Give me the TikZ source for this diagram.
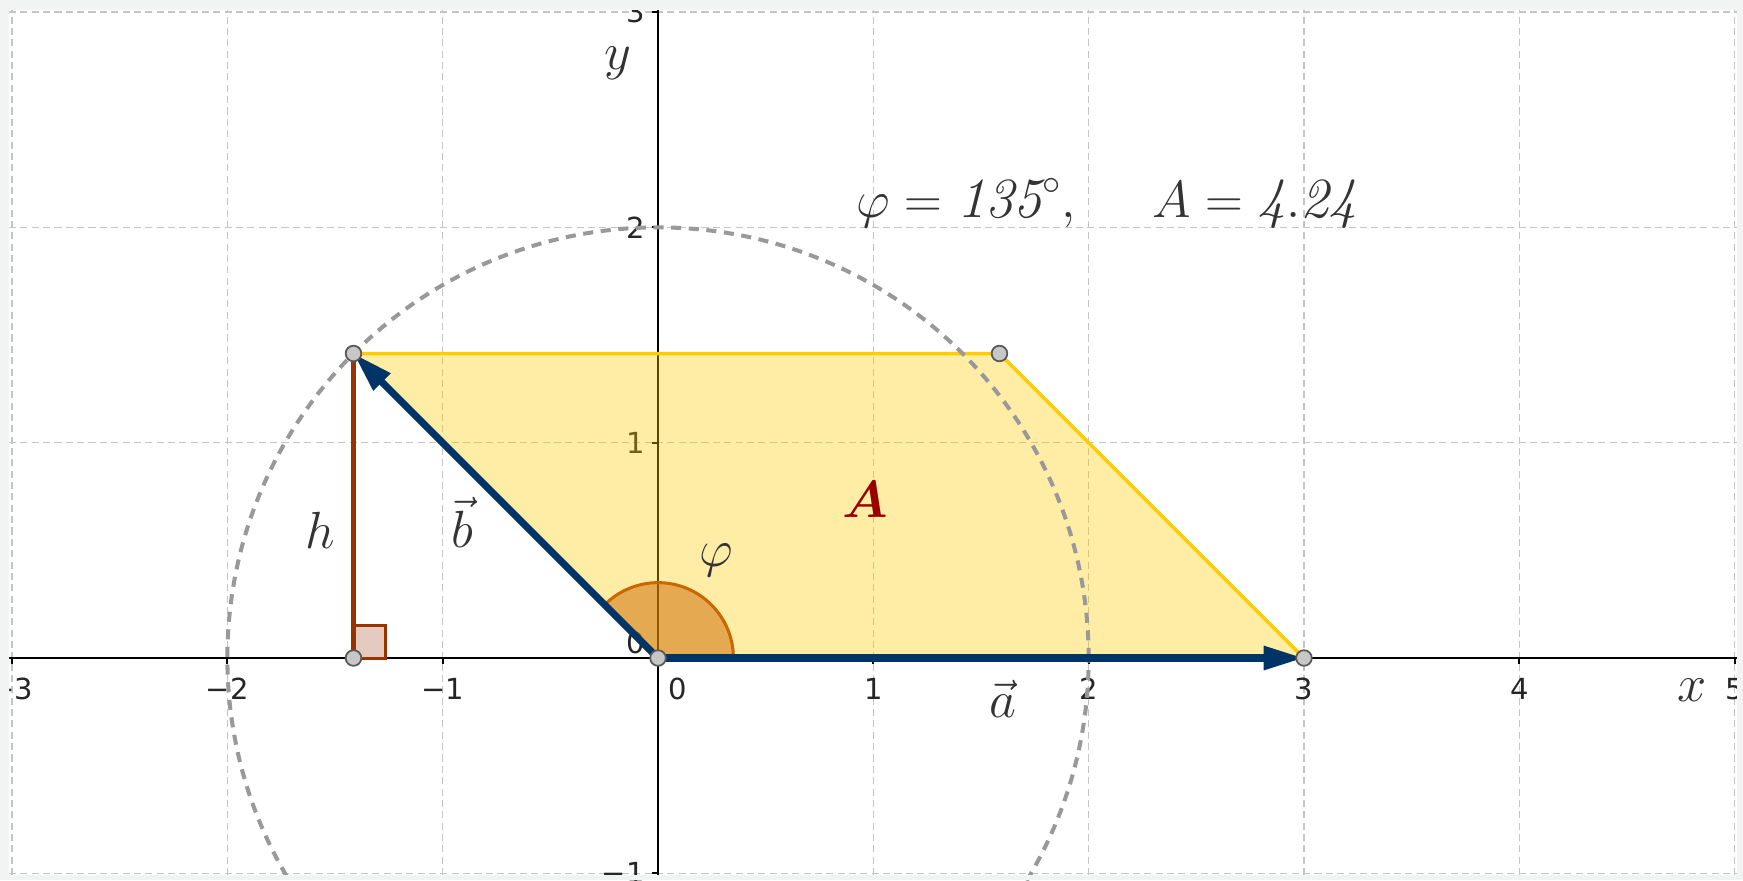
\documentclass[tikz,border=0pt]{standalone}
\usepackage{amsmath,amssymb}
\usepackage{fontspec}
\usepackage{xcolor}
\usepackage{tikz}
\usetikzlibrary{arrows.meta}
\newfontfamily\tickfont{DejaVu Sans}
\definecolor{vecblue}{HTML}{003366}
\definecolor{hbrown}{HTML}{993300}
\definecolor{gold}{HTML}{FFCC00}
\definecolor{angorange}{HTML}{CC6600}
\definecolor{areared}{HTML}{990000}
\definecolor{gridgray}{HTML}{C4C4C4}
\definecolor{framegray}{HTML}{F2F4F4}

\begin{document}
\begin{tikzpicture}[x=3cm,y=3cm,
  every node/.style={inner sep=0pt},
  lbl/.style={font=\fontsize{20}{24}\selectfont,text=black!80},
  tickno/.style={font=\tickfont\fontsize{11.5}{13}\selectfont,text=black!85},
  gridline/.style={gridgray,line width=0.5pt,dash pattern=on 2.8pt off 1.7pt},
  axisline/.style={black,line width=0.8pt},
  circ/.style={black!40,line width=1.6pt,dash pattern=on 4pt off 3pt},
  vec/.style={vecblue,line width=2.8pt,-{Triangle[length=16pt,width=9pt]}},
  hline/.style={hbrown,line width=2pt},
  vertex/.style={circle,draw=black!65,fill=black!22,line width=0.7pt,minimum size=6.2pt}
]
\useasboundingbox (-3.056,-1.031) rectangle (5.039,3.056);
\fill[white] (-3.056,-1.031) rectangle (5.039,3.056);

\foreach \i in {-3,...,5} \draw[gridline] (\i,-1.008) -- (\i,3.010);
\foreach \j in {-1,...,3} \draw[gridline] (-3.014,\j) -- (5.012,\j);
\draw[axisline] (-3.014,0) -- (5.012,0);
\draw[axisline] (0,-1.008) -- (0,3.010);
\foreach \i in {-3,...,5} \draw[axisline] (\i,0) -- (\i,-0.03);
\foreach \j in {-1,...,3} \draw[axisline] (0,\j) -- (-0.03,\j);

\foreach \i/\t in {-3/−3,-2/−2,-1/−1,1/1,2/2,3/3,4/4,5/5}
  \node[tickno] (tx\i) at (\i,-0.144) {\t};
\node[tickno] (tx0) at (0.09,-0.144) {0};
\foreach \j/\t in {-1/−1,1/1,2/2,3/3}
  \node[tickno,anchor=east] (ty\j) at (-0.06,\j) {\t};
\node[tickno,anchor=east] (ty0) at (-0.06,0.07) {0};

\coordinate (O) at (0,0);
\coordinate (a) at (3,0);
\coordinate (b) at (-1.4142,1.4142);
\coordinate (ab) at (1.5858,1.4142);
\coordinate (f) at (-1.4142,0);

\filldraw[fill=gold,fill opacity=0.35,draw=gold,line width=1.4pt] (O) -- (a) -- (ab) -- (b) -- cycle;
\draw[circ] (O) circle[radius=2];
\filldraw[fill=angorange,fill opacity=0.5,draw=angorange,line width=1.2pt]
  (O) -- (0.35,0) arc[start angle=0,end angle=135,radius=0.35] -- cycle;
\filldraw[fill=hbrown,fill opacity=0.25,draw=hbrown,line width=1.2pt] (f) rectangle ++(0.15,0.15);
\draw[hline] (f) -- (b);
\draw[vec] (O) -- (a);
\draw[vec] (O) -- (b);
\foreach \p in {O,a,b,ab,f} \node[vertex] (p\p) at (\p) {};

\node[lbl] (la) at (1.60,-0.19) {$\vec a$};
\node[lbl] (lb) at (-0.91,0.63) {$\vec b$};
\node[lbl] (lh) at (-1.567,0.594) {$h$};
\node[lbl] (lphi) at (0.27,0.455) {$\varphi$};
\node[lbl,text=areared] (lA) at (0.964,0.734) {$\boldsymbol{A}$};
\node[lbl] (lx) at (4.80,-0.149) {$x$};
\node[lbl] (ly) at (-0.186,2.763) {$y$};
\node[lbl,font=\fontsize{22.5}{26}\selectfont,anchor=base west] (info) at (0.921,2.044)
  {$\varphi = \mathit{135}^\circ,\hspace{1.2em} A = \mathit{4.24}$};

\fill[framegray,even odd rule] (-3.056,-1.031) rectangle (5.039,3.056) (-3.014,-1.008) rectangle (5.012,3.010);
\end{tikzpicture}
\end{document}
